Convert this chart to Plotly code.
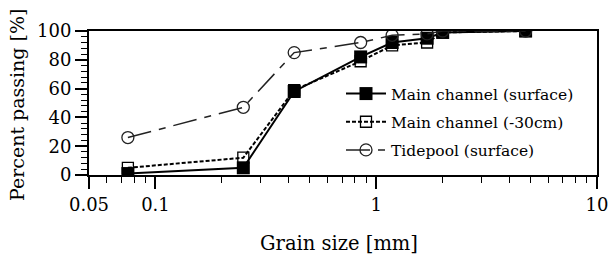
import plotly.graph_objects as go
import numpy as np

grain_size = [0.075, 0.25, 0.425, 0.85, 1.18, 1.7, 2.0, 4.75]
main_surface = [1, 5, 58, 82, 92, 95, 99, 100]
main_30cm = [5, 12, 59, 79, 90, 92, 99, 100]
tidepool = [26, 47, 85, 92, 97, 98, 100, 100]

x_tickvals = [0.05, 0.1, 1, 10]
x_ticktext = ["0.05", "0.1", "1", "10"]
x_minor = [0.06, 0.07, 0.08, 0.09] + [k / 10 for k in range(2, 10)] + list(range(2, 10))
y_tickvals = [0, 20, 40, 60, 80, 100]

FONT = "DejaVu Serif"

W, H = 610, 257
ML, MR, MT, MB = 89, 13, 31, 82
PW, PH = W - ML - MR, H - MT - MB


def px2paper(px, py):
    return (px - ML) / PW, (H - MB - py) / PH


fig = go.Figure()
fig.add_trace(go.Scatter(
    x=grain_size, y=main_30cm, name="Main channel (-30cm)", legendrank=2, legendgroup="b",
    mode="lines+markers",
    line=dict(color="black", width=2, dash="4px,2px"),
    marker=dict(symbol="square-open", size=11, color="black", line=dict(width=1.3, color="black")),
))
fig.add_trace(go.Scatter(
    x=grain_size, y=main_surface, name="Main channel (surface)", legendrank=1, legendgroup="a",
    mode="lines+markers",
    line=dict(color="black", width=2),
    marker=dict(symbol="square", size=13, color="black"),
))
fig.add_trace(go.Scatter(
    x=grain_size, y=tidepool, name="Tidepool (surface)", legendrank=3, legendgroup="c",
    mode="lines+markers",
    line=dict(color="#222", width=1.5, dash="24px,8px,7px,8px"),
    marker=dict(symbol="circle-open", size=12, color="#222", line=dict(width=1.3, color="#222")),
))

lx, ly = px2paper(341, 77)
tx, ty = px2paper(339, 243)
yx, yy = px2paper(17, 105)

fig.update_layout(
    width=W, height=H,
    margin=dict(l=ML, r=MR, t=MT, b=MB),
    paper_bgcolor="white", plot_bgcolor="white",
    font=dict(family=FONT, color="black", size=18),
    legend=dict(
        x=lx, y=ly, xanchor="left", yanchor="top",
        bgcolor="rgba(0,0,0,0)", font=dict(size=15.5, family=FONT),
        tracegroupgap=5, itemwidth=40,
    ),
    showlegend=True,
    annotations=[
        dict(text="Grain size [mm]", x=tx, y=ty, xref="paper", yref="paper",
             showarrow=False, xanchor="center", yanchor="middle",
             font=dict(size=19.5, family=FONT, color="black")),
        dict(text="Percent passing [%]", x=yx, y=yy, xref="paper", yref="paper",
             showarrow=False, xanchor="center", yanchor="middle", textangle=-90,
             font=dict(size=19, family=FONT, color="black")),
    ],
)
fig.update_xaxes(
    type="log", range=[np.log10(0.05), 1], automargin=False,
    tickmode="array", tickvals=x_tickvals, ticktext=x_ticktext,
    ticks="outside", ticklen=12, tickwidth=1.5, tickcolor="black",
    minor=dict(tickmode="array", tickvals=x_minor, ticks="outside", ticklen=6, tickwidth=1.2, tickcolor="black"),
    showline=True, linewidth=2, linecolor="black", mirror=True,
    showgrid=False, zeroline=False,
    tickfont=dict(size=18, family=FONT),
)
fig.update_yaxes(
    range=[0, 100], automargin=False,
    tickmode="array", tickvals=y_tickvals,
    ticks="outside", ticklen=12, tickwidth=1.5, tickcolor="black",
    minor=dict(dtick=4, ticks="outside", ticklen=6, tickwidth=1.2, tickcolor="black"),
    showline=True, linewidth=2, linecolor="black", mirror=True,
    showgrid=False, zeroline=False,
    tickfont=dict(size=18, family=FONT),
)

fig.write_html("out.html", config={"displayModeBar": False},
               post_script="document.body.style.margin='0px';")
